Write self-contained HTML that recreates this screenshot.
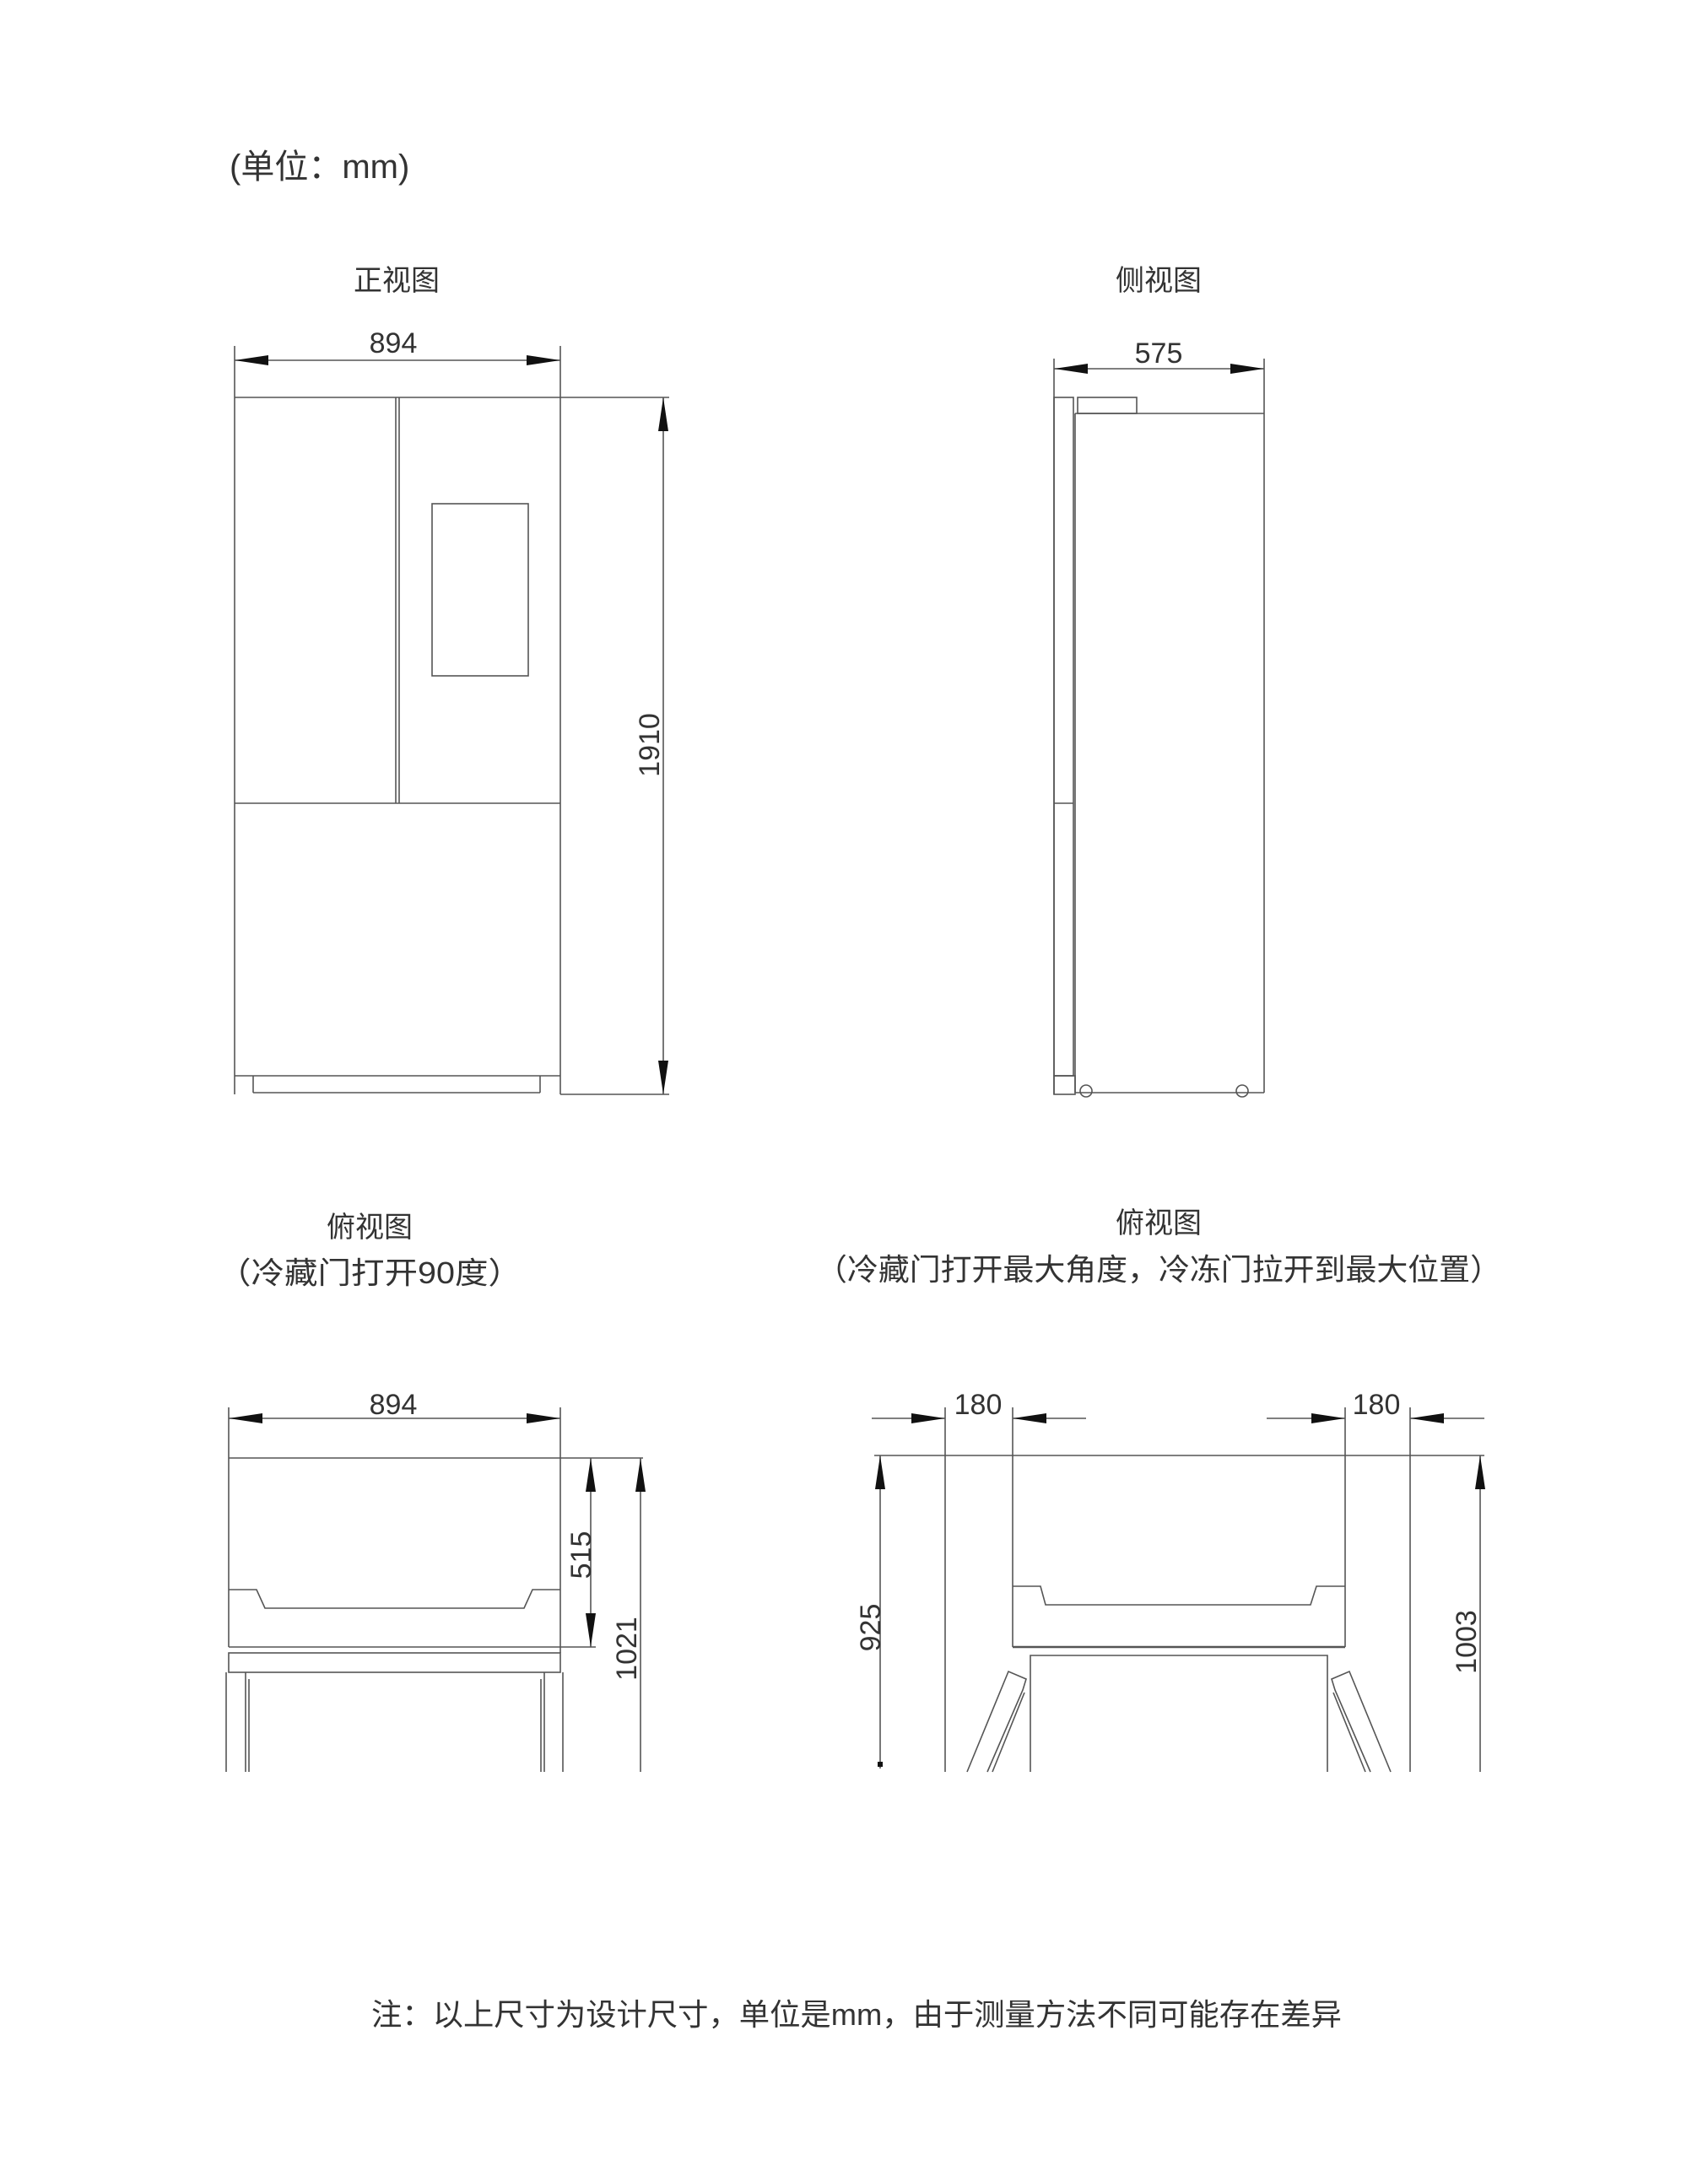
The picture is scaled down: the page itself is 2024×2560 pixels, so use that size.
<!DOCTYPE html>
<html><head><meta charset="utf-8"><style>
html,body{margin:0;padding:0;background:#fff;}
svg{display:block;}
text{font-family:"Liberation Sans","Noto Sans CJK SC",sans-serif;fill:#333;}
</style></head><body>
<svg width="2024" height="2560" viewBox="0 0 2024 2560" xmlns="http://www.w3.org/2000/svg">
<defs>
<marker id="a" markerUnits="userSpaceOnUse" markerWidth="42" markerHeight="14" refX="40" refY="6" orient="auto-start-reverse"><path d="M0,0 L40,6 L0,12 z" fill="#111"/></marker>
</defs>
<rect width="2024" height="2560" fill="#fff"/>
<text x="272" y="211" font-size="40">(单位：mm)</text>
<text x="470" y="344" font-size="34" text-anchor="middle">正视图</text>
<text x="1373" y="344" font-size="34" text-anchor="middle">侧视图</text>

<g stroke="#555" stroke-width="1.6" fill="none">
<!-- FRONT -->
<line x1="278" y1="410" x2="278" y2="1297"/>
<line x1="664" y1="410" x2="664" y2="1297"/>
<line x1="278" y1="471" x2="793" y2="471"/>
<line x1="664" y1="1297" x2="793" y2="1297"/>
<line x1="469" y1="471" x2="469" y2="952"/>
<line x1="473" y1="471" x2="473" y2="952"/>
<line x1="278" y1="952" x2="664" y2="952"/>
<rect x="512" y="597" width="114" height="204"/>
<line x1="278" y1="1275" x2="664" y2="1275"/>
<line x1="300" y1="1275" x2="300" y2="1295"/>
<line x1="640" y1="1275" x2="640" y2="1295"/>
<line x1="300" y1="1295" x2="640" y2="1295"/>
<line x1="278" y1="427" x2="664" y2="427" marker-start="url(#a)" marker-end="url(#a)"/>
<line x1="786" y1="471" x2="786" y2="1297" marker-start="url(#a)" marker-end="url(#a)"/>

<!-- SIDE -->
<line x1="1249" y1="425" x2="1249" y2="1297"/>
<line x1="1498" y1="425" x2="1498" y2="1295"/>
<line x1="1249" y1="437" x2="1498" y2="437" marker-start="url(#a)" marker-end="url(#a)"/>
<rect x="1249" y="471" width="23" height="804"/>
<line x1="1249" y1="952" x2="1272" y2="952"/>
<rect x="1249" y="1275" width="25" height="22"/>
<line x1="1274" y1="490" x2="1274" y2="1295"/>
<line x1="1274" y1="490" x2="1498" y2="490"/>
<line x1="1274" y1="1295" x2="1498" y2="1295"/>
<rect x="1277" y="471" width="70" height="19"/>
<circle cx="1287" cy="1293" r="7"/>
<circle cx="1472" cy="1293" r="7"/>

<!-- TOP VIEW LEFT -->
<line x1="271" y1="1668" x2="271" y2="1728"/>
<line x1="664" y1="1668" x2="664" y2="1959"/>
<line x1="271" y1="1681" x2="664" y2="1681" marker-start="url(#a)" marker-end="url(#a)"/>
<line x1="271" y1="1728" x2="762" y2="1728"/>
<line x1="271" y1="1728" x2="271" y2="1952"/>
<polyline points="271,1884 304,1884 314,1906 621,1906 631,1884 664,1884"/>
<line x1="271" y1="1952" x2="706" y2="1952"/>
<rect x="271" y="1959" width="393" height="23"/>
<line x1="268" y1="1982" x2="268" y2="2100"/>
<line x1="291" y1="1982" x2="291" y2="2100"/>
<line x1="295" y1="1990" x2="295" y2="2100"/>
<line x1="641" y1="1990" x2="641" y2="2100"/>
<line x1="645" y1="1982" x2="645" y2="2100"/>
<line x1="667" y1="1982" x2="667" y2="2100"/>
<line x1="700" y1="1728" x2="700" y2="1952" marker-start="url(#a)" marker-end="url(#a)"/>
<line x1="759" y1="1728" x2="759" y2="2100" marker-start="url(#a)"/>

<!-- TOP VIEW RIGHT -->
<line x1="1033" y1="1681" x2="1120" y2="1681" marker-end="url(#a)"/>
<line x1="1287" y1="1681" x2="1200" y2="1681" marker-end="url(#a)"/>
<line x1="1501" y1="1681" x2="1594" y2="1681" marker-end="url(#a)"/>
<line x1="1759" y1="1681" x2="1671" y2="1681" marker-end="url(#a)"/>
<line x1="1120" y1="1668" x2="1120" y2="2100"/>
<line x1="1671" y1="1668" x2="1671" y2="2100"/>
<line x1="1200" y1="1668" x2="1200" y2="1952"/>
<line x1="1594" y1="1668" x2="1594" y2="1952"/>
<line x1="1036" y1="1725" x2="1759" y2="1725"/>
<polyline points="1200,1880 1233,1880 1239,1902 1553,1902 1560,1880 1594,1880"/>
<line x1="1200" y1="1952" x2="1594" y2="1952" stroke-width="2.4"/>
<polyline points="1221,2100 1221,1962 1573,1962 1573,2100"/>
<polyline points="1146,2100 1195,1981 1216,1990 1212,2003 1170,2100"/>
<line x1="1214" y1="2006" x2="1176" y2="2100"/>
<polyline points="1648,2100 1599,1981 1578,1990 1582,2003 1624,2100"/>
<line x1="1580" y1="2006" x2="1618" y2="2100"/>
<line x1="1043" y1="1725" x2="1043" y2="2096" marker-start="url(#a)"/>
<line x1="1754" y1="1725" x2="1754" y2="2100" marker-start="url(#a)"/>
</g>
<rect x="1040" y="2088" width="6" height="6" fill="#111"/>

<text x="466" y="418" font-size="34" text-anchor="middle">894</text>
<text x="1373" y="430" font-size="34" text-anchor="middle">575</text>
<text transform="translate(781,883) rotate(-90)" font-size="34" text-anchor="middle">1910</text>

<text x="438" y="1466" font-size="34" text-anchor="middle">俯视图</text>
<text x="438" y="1521" font-size="36" text-anchor="middle" textLength="360" lengthAdjust="spacingAndGlyphs">（冷藏门打开90度）</text>
<text x="1373" y="1461" font-size="34" text-anchor="middle">俯视图</text>
<text x="1373" y="1517" font-size="36" text-anchor="middle" textLength="812" lengthAdjust="spacingAndGlyphs">（冷藏门打开最大角度，冷冻门拉开到最大位置）</text>

<text x="466" y="1676" font-size="34" text-anchor="middle">894</text>
<text transform="translate(700,1843) rotate(-90)" font-size="34" text-anchor="middle">515</text>
<text transform="translate(754,1954) rotate(-90)" font-size="34" text-anchor="middle">1021</text>
<text x="1159" y="1676" font-size="34" text-anchor="middle">180</text>
<text x="1631" y="1676" font-size="34" text-anchor="middle">180</text>
<text transform="translate(1043,1929) rotate(-90)" font-size="34" text-anchor="middle">925</text>
<text transform="translate(1749,1946) rotate(-90)" font-size="34" text-anchor="middle">1003</text>

<text x="1015" y="2400" font-size="36" text-anchor="middle" textLength="1150" lengthAdjust="spacingAndGlyphs">注：以上尺寸为设计尺寸，单位是mm，由于测量方法不同可能存在差异</text>
</svg>
</body></html>
